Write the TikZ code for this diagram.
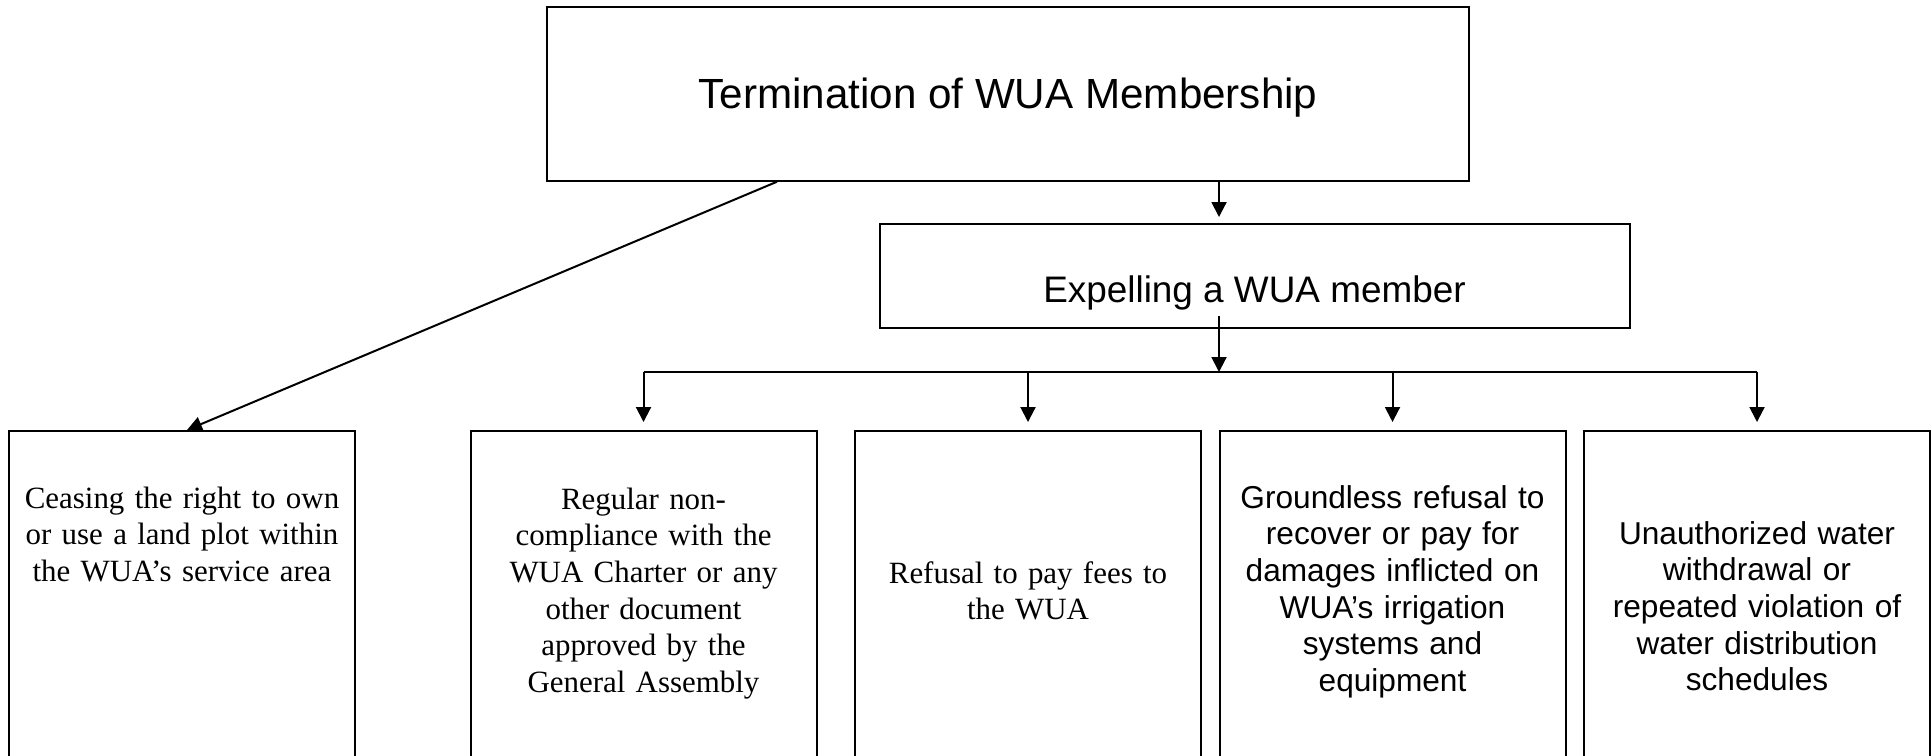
\documentclass[tikz,border=0pt]{standalone}
\usepackage{fontspec}
\setmainfont{Liberation Serif}
\setsansfont{Liberation Sans}
\usetikzlibrary{arrows.meta,positioning,calc}
\begin{document}
\begin{tikzpicture}
[line width=0.57pt, >={Triangle[length=0.15cm,width=0.15cm]},
 head/.style={draw, font=\sffamily\fontsize{12}{14}\selectfont},
 cause/.style={draw, anchor=north, text width=3.30cm, align=center, inner xsep=0.08cm, inner ysep=0.1cm,
               text height=#1, text depth=4cm, font=\fontsize{8.8}{10.44}\selectfont},
 sanscause/.style={cause=#1, font=\sffamily\fontsize{9}{10.44}\selectfont}]
\useasboundingbox (0,0) rectangle (19.32,-7.55);
\clip (0,0) rectangle (19.32,-7.55);
\node[head, minimum width=9.22cm, minimum height=1.734cm, text height=0.37cm] (term) at (10.08,-0.94) {Termination of WUA Membership};
\node[draw, font=\sffamily\fontsize{10.5}{12}\selectfont, minimum width=7.50cm, minimum height=1.04cm, text height=0.6cm] (expel) at (12.545,-2.76) {Expelling a WUA member};
\node[cause=0.67cm] (c1) at (1.82,-4.30) {Ceasing the right to own\\ or use a land plot within\\ the WUA’s service area};
\node[cause=0.68cm] (c2) at (6.435,-4.30) {Regular non-\\ compliance with the\\ WUA Charter or any\\ other document\\ approved by the\\ General Assembly};
\node[cause=1.42cm] (c3) at (10.28,-4.30) {Refusal to pay fees to\\ the WUA};
\node[sanscause=0.67cm] (c4) at (13.925,-4.30) {Groundless refusal to\\ recover or pay for\\ damages inflicted on\\ WUA’s irrigation\\ systems and\\ equipment};
\node[sanscause=1.03cm] (c5) at (17.57,-4.30) {Unauthorized water\\ withdrawal or\\ repeated violation of\\ water distribution\\ schedules};
\coordinate (split) at (12.19,-3.72);
\draw[->, shorten >=0.06cm] (term.south -| split) -- (expel.north -| split);
\draw[->] ($(expel.south -| split)+(0,0.13)$) -- (split);
\draw (c2.north |- split) -- (c5.north |- split);
\foreach \c in {c2,c3,c4,c5}
  \draw[->, shorten >=0.08cm] (\c.north |- split) -- (\c.north);
\draw[->] ($(term.south west)!0.25!(term.south east)$) -- ([xshift=0.05cm]c1.north);
\end{tikzpicture}
\end{document}
